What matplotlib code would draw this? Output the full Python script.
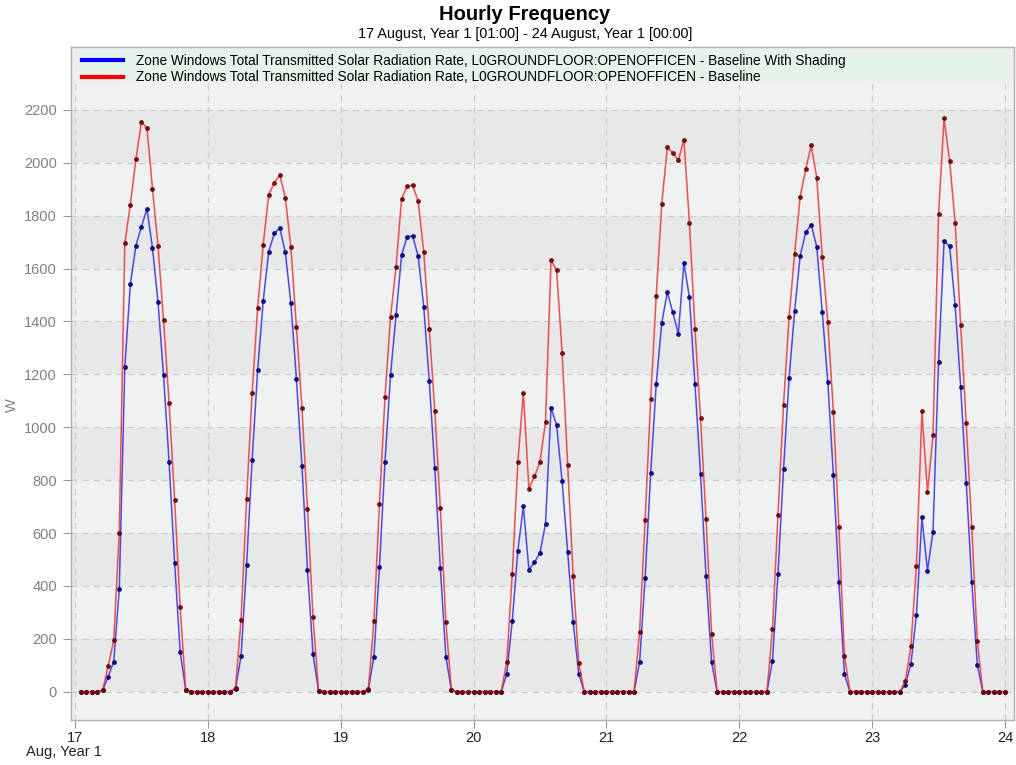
import matplotlib
matplotlib.use("Agg")
import matplotlib.pyplot as plt
import numpy as np
from matplotlib.lines import Line2D
from matplotlib.patches import Rectangle

plt.rcParams['font.family'] = ['Liberation Sans', 'DejaVu Sans']

# hourly values, 17 Aug 01:00 .. 24 Aug 00:00 (24 values per day)
shaded_by_day = [
    [0, 0, 0, 0, 5, 57, 114, 387, 1227, 1540, 1687, 1758, 1826, 1678, 1473, 1196, 868, 488, 151, 7, 0, 0, 0, 0],
    [0, 0, 0, 0, 10, 135, 480, 878, 1216, 1477, 1664, 1733, 1754, 1661, 1469, 1184, 855, 461, 142, 3, 0, 0, 0, 0],
    [0, 0, 0, 0, 8, 133, 470, 869, 1197, 1424, 1650, 1721, 1723, 1647, 1456, 1175, 845, 468, 133, 5, 0, 0, 0, 0],
    [0, 0, 0, 0, 0, 68, 269, 533, 701, 462, 489, 525, 635, 1072, 1009, 795, 527, 263, 68, 0, 0, 0, 0, 0],
    [0, 0, 0, 0, 0, 113, 431, 826, 1163, 1394, 1511, 1434, 1354, 1622, 1491, 1163, 825, 436, 113, 0, 0, 0, 0, 0],
    [0, 0, 0, 0, 0, 117, 447, 841, 1185, 1438, 1648, 1737, 1766, 1683, 1434, 1170, 820, 414, 66, 0, 0, 0, 0, 0],
    [0, 0, 0, 0, 0, 26, 104, 289, 659, 458, 605, 1246, 1704, 1684, 1462, 1153, 791, 416, 102, 0, 0, 0, 0, 0],
]
baseline_by_day = [
    [0, 0, 0, 0, 5, 97, 194, 602, 1695, 1842, 2013, 2154, 2132, 1902, 1687, 1404, 1090, 726, 319, 7, 0, 0, 0, 0],
    [0, 0, 0, 0, 15, 273, 727, 1128, 1451, 1691, 1880, 1925, 1954, 1868, 1680, 1380, 1073, 692, 282, 3, 0, 0, 0, 0],
    [0, 0, 0, 0, 12, 266, 710, 1115, 1416, 1606, 1864, 1911, 1915, 1855, 1663, 1373, 1061, 695, 264, 5, 0, 0, 0, 0],
    [0, 0, 0, 0, 0, 113, 447, 867, 1131, 767, 814, 869, 1020, 1632, 1594, 1282, 857, 437, 109, 0, 0, 0, 0, 0],
    [0, 0, 0, 0, 0, 227, 651, 1105, 1498, 1845, 2058, 2037, 2010, 2088, 1772, 1371, 1036, 652, 220, 0, 0, 0, 0, 0],
    [0, 0, 0, 0, 0, 237, 670, 1085, 1416, 1656, 1871, 1975, 2066, 1944, 1642, 1397, 1059, 622, 136, 0, 0, 0, 0, 0],
    [0, 0, 0, 0, 0, 40, 171, 474, 1060, 754, 969, 1805, 2168, 2007, 1774, 1385, 1015, 623, 192, 0, 0, 0, 0, 0],
]
days = [17, 18, 19, 20, 21, 22, 23, 24]
y_ticks = list(range(0, 2201, 200))
series_names = [
    "Zone Windows Total Transmitted Solar Radiation Rate, L0GROUNDFLOOR:OPENOFFICEN - Baseline With Shading",
    "Zone Windows Total Transmitted Solar Radiation Rate, L0GROUNDFLOOR:OPENOFFICEN - Baseline",
]

shaded = np.concatenate(shaded_by_day)
baseline = np.concatenate(baseline_by_day)
hours = days[0] + np.arange(1, len(shaded) + 1) / 24.0

fig = plt.figure(figsize=(10.16, 7.65), dpi=100)
ax = fig.add_axes([71 / 1016, 1 - 720 / 765, 943 / 1016, 673 / 765])
ax.set_facecolor('#efefef')

y_lo, y_hi, band_top = -107, 2438, 2306
ax.set_xlim(16.97, 24.068)
ax.set_ylim(y_lo, y_hi)

# alternating horizontal bands
for k in range(-1, 12):
    lo, hi = max(k * 200, y_lo), min((k + 1) * 200, band_top)
    ax.axhspan(lo, hi, color='#e7e8e8' if k % 2 == 0 else '#f0f1f1', lw=0, zorder=0)

ax.set_axisbelow(True)
ax.grid(True, color='#cfcfcf', ls=(0, (5, 4)), lw=0.9)

# legend strip at the top of the frame
ax.add_patch(Rectangle((0, (720 - 82) / 673), 1, 1, transform=ax.transAxes,
                       color='#efefef', zorder=1, clip_on=True))
ax.add_patch(Rectangle((6 / 943, (720 - 81) / 673), 931 / 943, 31 / 673,
                       transform=ax.transAxes, color='#e4f4ea', zorder=1.1, lw=0))

ax.plot(hours, shaded, color='#2a2aff', lw=1.1, alpha=0.85, zorder=3,
        marker='o', ms=2.5, mfc='#000080', mec='#000080')
ax.plot(hours, baseline, color='#ff2a2a', lw=1.1, alpha=0.85, zorder=4,
        marker='o', ms=2.5, mfc='#700000', mec='#700000')

handles = [Line2D([], [], color='#0000ff', lw=3), Line2D([], [], color='#ff0000', lw=3)]
ax.legend(handles, series_names, loc='upper left', bbox_to_anchor=(11 / 943, 0.99),
          frameon=False, fontsize=9.8, handlelength=3.0, handletextpad=1.0,
          labelspacing=0.2, borderpad=0, borderaxespad=0)

ax.set_xticks(days)
ax.set_xticklabels([str(d) for d in days])
ax.set_yticks(y_ticks)
ax.set_yticklabels([str(v) for v in y_ticks])
ax.tick_params(axis='y', colors='#999999', labelcolor='#808080', labelsize=10.5, length=6, pad=4)
ax.tick_params(axis='x', colors='#999999', labelcolor='#222222', labelsize=10.5, length=6, pad=2)
for s in ax.spines.values():
    s.set_color('#b0b0b0')
    s.set_linewidth(1.0)

fig.text(525 / 1016, 1 - 15 / 765, "Hourly Frequency", ha='center', va='center',
         fontsize=14.5, fontweight='bold')
fig.text(525 / 1016, 1 - 34 / 765, "17 August, Year 1 [01:00] - 24 August, Year 1 [00:00]",
         ha='center', va='center', fontsize=10.4)
fig.text(12 / 1016, 1 - 405 / 765, "W", rotation=90, ha='center', va='center',
         fontsize=10.5, color='#808080')
fig.text(26 / 1016, 1 - 752 / 765, "Aug, Year 1", ha='left', va='center',
         fontsize=10.5, color='#222222')

fig.savefig("out.png", dpi=100)
